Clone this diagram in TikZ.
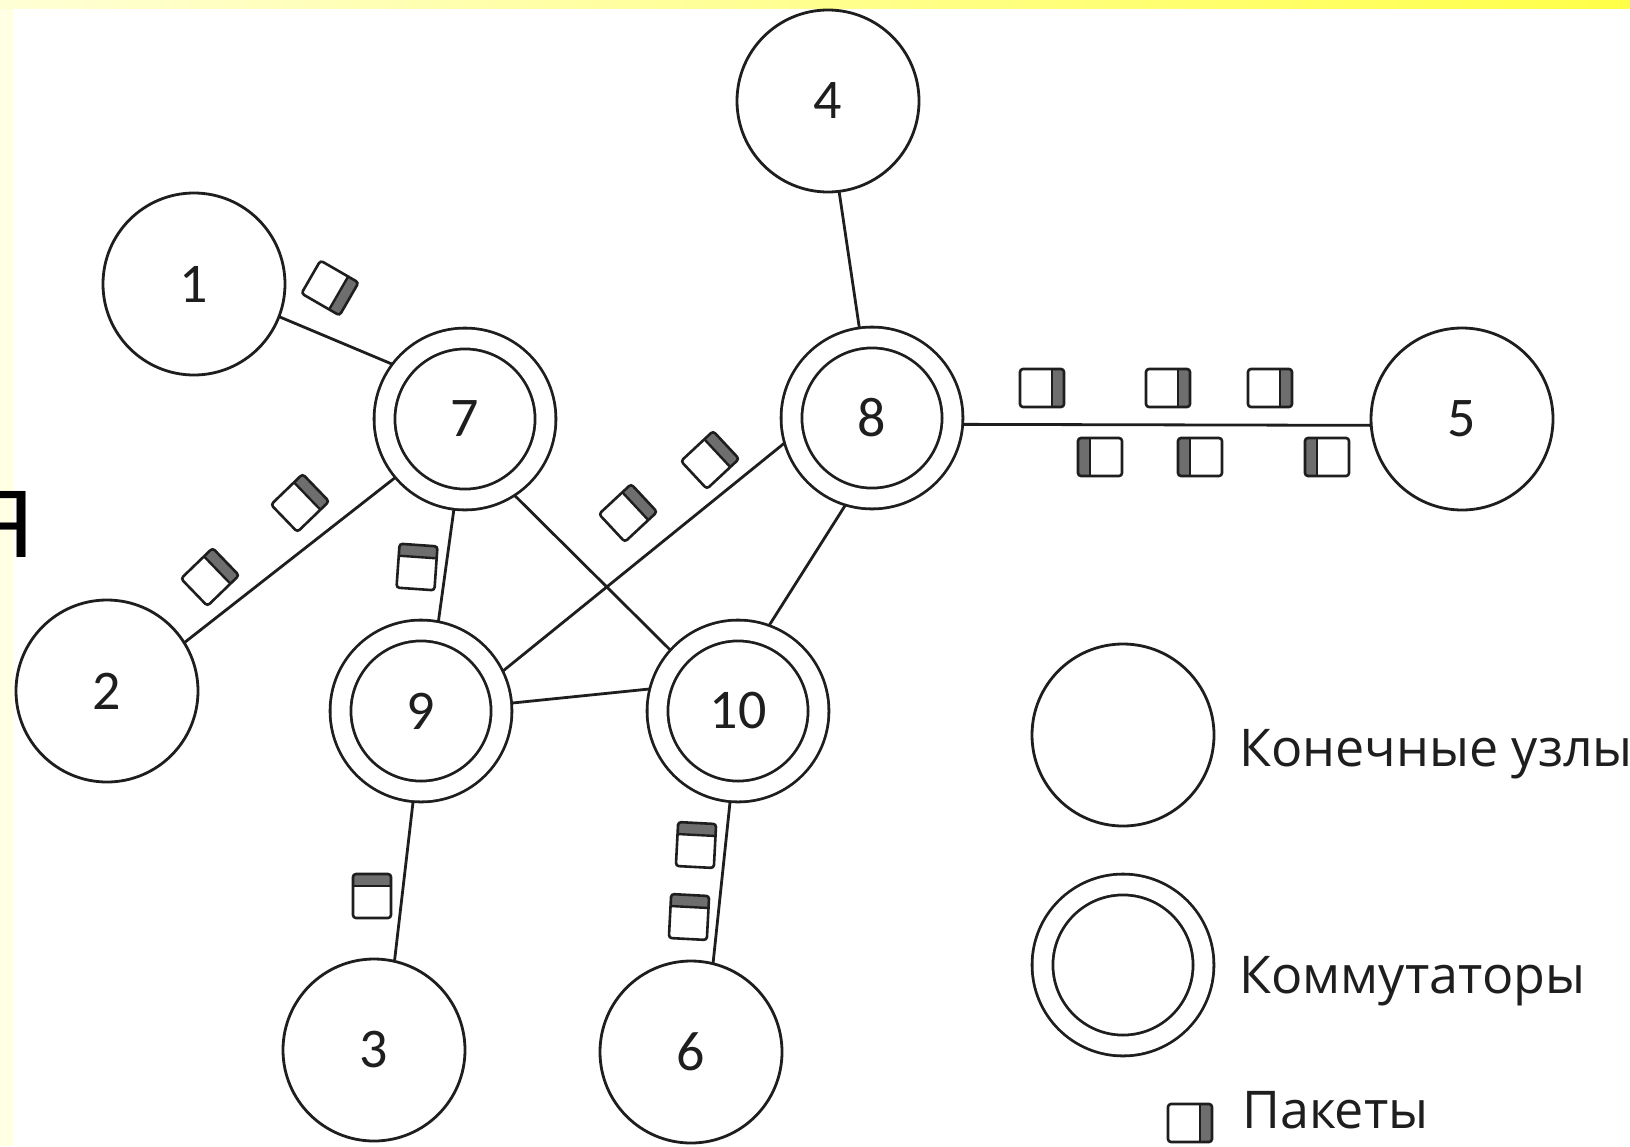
\documentclass[tikz,border=0pt]{standalone}
\usepackage{fontspec}
\setmainfont{Carlito}
\newfontfamily\legendfont{Open Sans}
\newfontfamily\sidefont{Liberation Sans}
\definecolor{ink}{HTML}{1E1E1E}
\definecolor{stripegray}{HTML}{6E6E6E}
\definecolor{paleyellow}{HTML}{FFFFE4}
\definecolor{bandleft}{HTML}{FFFFD6}
\definecolor{bandright}{HTML}{FFFF48}
\tikzset{
  link/.style={draw=ink, line width=2.8pt},
  endnode/.style={circle, draw=ink, line width=2.8pt, fill=white,
    minimum size=182pt, inner sep=0pt, outer sep=0pt,
    font=\fontsize{56}{60}\selectfont, text=ink},
  switchnode/.style={circle, draw=ink, line width=2.8pt, double=white,
    double distance=18pt, fill=white, minimum size=161pt, inner sep=0pt,
    outer sep=10.6pt, font=\fontsize{56}{60}\selectfont, text=ink},
  legendtext/.style={anchor=base west, inner sep=0pt,
    font=\legendfont\fontsize{52}{56}\selectfont, text=ink},
  packet/.pic={
    \fill[stripegray] (10,-19) rectangle (22,19);
    \draw[ink, line width=2.4pt] (10,-19) -- (10,19);
    \draw[ink, line width=2.6pt, rounded corners=3pt] (-22,-19) rectangle (22,19);
  }
}
\begin{document}
\begin{tikzpicture}[x=1pt, y=-1pt]
  % page and coloured frame
  \useasboundingbox (0,0) rectangle (1630,1146);
  \clip (0,0) rectangle (1630,1146);
  \fill[white] (0,0) rectangle (1630,1146);
  \fill[paleyellow] (0,0) rectangle (13,1146);
  \shade[left color=bandleft, right color=bandright] (0,0) rectangle (1630,8);
  \node[anchor=base east, inner sep=0pt, font=\sidefont\fontsize{96}{100}\selectfont]
    (sideletter) at (34,557) {Я};

  % end nodes
  \node[endnode] (n1) at (194,284) {1};
  \node[endnode] (n2) at (107,691) {2};
  \node[endnode] (n3) at (374,1050) {3};
  \node[endnode] (n4) at (828,101) {4};
  \node[endnode] (n5) at (1462,419) {5};
  \node[endnode] (n6) at (691,1052) {6};

  % switches
  \node[switchnode] (n7) at (465,419) {7};
  \node[switchnode] (n8) at (872,418) {8};
  \node[switchnode] (n9) at (421,711) {9};
  \node[switchnode] (n10) at (738,711) {10};

  % links
  \draw[link] (n1.-21) -- (n7.143);
  \draw[link] (n2.32) -- (n7.220);
  \draw[link] (n4.-83) -- (n8.98);
  \draw[link] (n8.-4.5) -- (n5.184.5);
  \draw[link] (n7.263) -- (n9.79);
  \draw[link] (n7.303) -- (n10.138);
  \draw[link] (n9.26) -- (n8.196);
  \draw[link] (n8.253) -- (n10.70);
  \draw[link] (n9.5) -- (n10.166);
  \draw[link] (n9.265) -- (n3.77);
  \draw[link] (n10.265) -- (n6.76);

  % packets in transit
  \pic[rotate=-30] at (330,288) {packet};
  \pic[rotate=44] at (210,577) {packet};
  \pic[rotate=44] at (300,503) {packet};
  \pic[rotate=43] at (628,513) {packet};
  \pic[rotate=43] at (710,460) {packet};
  \pic[rotate=86] at (417,567) {packet};
  \pic[rotate=90] at (372,896) {packet};
  \pic[rotate=87] at (696,845) {packet};
  \pic[rotate=87] at (689,917) {packet};
  \pic at (1042,388) {packet};
  \pic at (1168,388) {packet};
  \pic at (1270,388) {packet};
  \pic[rotate=180] at (1100,457) {packet};
  \pic[rotate=180] at (1200,457) {packet};
  \pic[rotate=180] at (1327,457) {packet};

  % legend
  \node[endnode] (legend end) at (1123,735) {};
  \node[switchnode] (legend switch) at (1123,965) {};
  \pic at (1190,1123) {packet};
  \node[legendtext] (text end) at (1239,766) {Конечные узлы};
  \node[legendtext] (text switch) at (1239,993) {Коммутаторы};
  \node[legendtext] (text packet) at (1242,1128) {Пакеты};
\end{tikzpicture}
\end{document}
